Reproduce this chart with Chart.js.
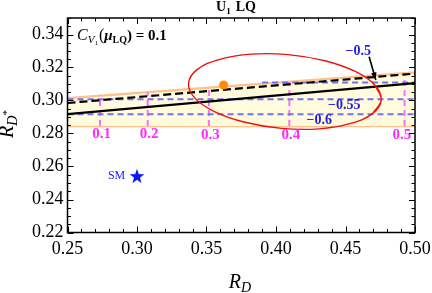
<!DOCTYPE html>
<html>
<head>
<meta charset="utf-8">
<script src="https://cdn.jsdelivr.net/npm/chart.js@4/dist/chart.umd.min.js"></script>
<style>
  html, body { margin: 0; padding: 0; background: #fff; }
  canvas { display: block; }
</style>
</head>
<body>
<canvas id="plot" width="432" height="293"></canvas>
<script>
// tick labels
const xTicks = [0.25, 0.30, 0.35, 0.40, 0.45, 0.50]
const yTicks = [0.22, 0.24, 0.26, 0.28, 0.30, 0.32, 0.34]

// allowed band (orange edges, yellow fill) and the two black lines
const bandX = [0.25, 0.50]
const bandUpper = [0.3014, 0.3170]
const bandLower = [0.2845, 0.2845]
const solidLine = [0.2918, 0.3105]
const dashedLine = [0.2985, 0.3163]

// blue contours
const contourLabels = ['\u22120.5', '\u22120.55', '\u22120.6']
const contourY = [0.3109, 0.3007, 0.2916]
const contourStart = [0.390, 0.25, 0.25]
const contourEnd = [0.50, 0.50, 0.50]
const contourLabelX = [0.4591, 0.4491, 0.4311]
const contourLabelY = [0.3296, 0.2973, 0.2878]

// magenta verticals
const magentaLabels = ['0.1', '0.2', '0.3', '0.4', '0.5']
const magentaX = [0.2734, 0.3077, 0.3517, 0.4096, 0.4925]
const magentaTop = [0.3030, 0.3050, 0.3077, 0.3112, 0.3163]
const magentaLabelX = [0.2745, 0.3088, 0.3528, 0.4107, 0.4905]
const magentaLabelY = [0.2796, 0.2796, 0.2790, 0.2790, 0.2793]

// red ellipse, read around the curve
const ellipseRD = [0.4712, 0.4757, 0.4696, 0.4537, 0.4308, 0.4041, 0.3777, 0.3557, 0.3415, 0.3371, 0.3432, 0.3590, 0.3820, 0.4087, 0.4351, 0.4570, 0.4712, 0.4757, 0.4696]
const ellipseRDs = [0.3093, 0.3004, 0.2922, 0.2861, 0.2828, 0.2831, 0.2868, 0.2933, 0.3016, 0.3105, 0.3187, 0.3248, 0.3281, 0.3278, 0.3241, 0.3176, 0.3093, 0.3004, 0.2922]

// points
const expPoint = {x: 0.3623, y: 0.3094}
const smPoint = {x: 0.30, y: 0.2542}

const serif = '"Liberation Serif", "DejaVu Serif", serif'

function pts(xs, ys) {
    return xs.map((x, i) => ({x: x, y: ys[i]}))
}

function starImage() {
    const c = document.createElement('canvas')
    c.width = 16
    c.height = 16
    const g = c.getContext('2d')
    g.fillStyle = '#0a14ff'
    g.beginPath()
    for (let i = 0; i < 10; i++) {
        let r = i % 2 === 0 ? 7.8 : 3.1
        let a = -Math.PI / 2 + i * Math.PI / 5
        let px = 8 + r * Math.cos(a)
        let py = 8.6 + r * Math.sin(a)
        if (i === 0) g.moveTo(px, py)
        else g.lineTo(px, py)
    }
    g.closePath()
    g.fill()
    return c
}

// draws a list of text pieces one after another
function drawParts(ctx, parts, x, y, align) {
    let total = 0
    parts.forEach(p => {
        ctx.font = p.font
        p.w = ctx.measureText(p.text).width
        total += p.w + (p.gap || 0)
    })
    let cx = align === 'center' ? x - total / 2 : x
    ctx.textBaseline = 'alphabetic'
    ctx.textAlign = 'left'
    parts.forEach(p => {
        ctx.font = p.font
        ctx.fillStyle = p.color || '#000'
        ctx.fillText(p.text, cx, y + (p.dy || 0))
        cx += p.w + (p.gap || 0)
    })
}

const decor = {
    id: 'decor',
    afterDraw(chart) {
        const ctx = chart.ctx
        const xs = chart.scales.x
        const ys = chart.scales.y
        const a = chart.chartArea
        ctx.save()

        // blue contour labels
        ctx.font = 'bold 14px ' + serif
        ctx.fillStyle = '#1e1ee0'
        ctx.textAlign = 'center'
        ctx.textBaseline = 'middle'
        for (let i = 0; i < contourLabels.length; i++) {
            ctx.fillText(contourLabels[i], xs.getPixelForValue(contourLabelX[i]), ys.getPixelForValue(contourLabelY[i]))
        }

        // arrow to the -0.5 contour
        let x0 = xs.getPixelForValue(0.4670), y0 = ys.getPixelForValue(0.3265)
        let x1 = xs.getPixelForValue(0.4718), y1 = ys.getPixelForValue(0.3124)
        ctx.strokeStyle = '#000'
        ctx.lineWidth = 1.6
        ctx.beginPath()
        ctx.moveTo(x0, y0)
        ctx.lineTo(x1, y1)
        ctx.stroke()
        let ang = Math.atan2(y1 - y0, x1 - x0)
        ctx.fillStyle = '#000'
        ctx.beginPath()
        ctx.moveTo(x1, y1)
        ctx.lineTo(x1 - 8 * Math.cos(ang - 0.35), y1 - 8 * Math.sin(ang - 0.35))
        ctx.lineTo(x1 - 8 * Math.cos(ang + 0.35), y1 - 8 * Math.sin(ang + 0.35))
        ctx.closePath()
        ctx.fill()

        // magenta labels
        ctx.font = 'bold 15px ' + serif
        ctx.fillStyle = '#ff2cff'
        ctx.textAlign = 'center'
        ctx.textBaseline = 'middle'
        for (let i = 0; i < magentaLabels.length; i++) {
            ctx.fillText(magentaLabels[i], xs.getPixelForValue(magentaLabelX[i]), ys.getPixelForValue(magentaLabelY[i]))
        }

        // SM label
        ctx.font = '12px ' + serif
        ctx.fillStyle = '#1a1aff'
        ctx.fillText('SM', xs.getPixelForValue(0.2853), ys.getPixelForValue(smPoint.y))

        // frame
        ctx.strokeStyle = '#000'
        ctx.lineWidth = 1.5
        ctx.strokeRect(a.left, a.top, a.right - a.left, a.bottom - a.top)

        // inward ticks on all sides
        ctx.lineWidth = 1
        ctx.beginPath()
        for (let k = 0; k <= 25; k++) {
            let v = 0.25 + k * 0.01
            let px = Math.round(xs.getPixelForValue(v)) + 0.5
            let len = k % 5 === 0 ? 6 : 3.5
            ctx.moveTo(px, a.bottom)
            ctx.lineTo(px, a.bottom - len)
            ctx.moveTo(px, a.top)
            ctx.lineTo(px, a.top + len)
        }
        for (let k = 0; k <= 26; k++) {
            let v = 0.22 + k * 0.005
            let py = Math.round(ys.getPixelForValue(v)) + 0.5
            let len = k % 4 === 0 ? 6 : 3.5
            ctx.moveTo(a.left, py)
            ctx.lineTo(a.left + len, py)
            ctx.moveTo(a.right, py)
            ctx.lineTo(a.right - len, py)
        }
        ctx.stroke()

        // title
        drawParts(ctx, [
            {text: 'U', font: 'bold 14px ' + serif},
            {text: '1', font: 'bold 9px ' + serif, dy: 3, gap: 5},
            {text: 'LQ', font: 'bold 14px ' + serif}
        ], 236, 11, 'center')

        // C_V1(mu_LQ) = 0.1
        drawParts(ctx, [
            {text: 'C', font: 'italic 16px ' + serif},
            {text: 'V', font: 'italic 11px ' + serif, dy: 3},
            {text: '1', font: '7px ' + serif, dy: 5, gap: 1},
            {text: '(', font: '16px ' + serif},
            {text: '\u03bc', font: 'italic bold 15px ' + serif},
            {text: 'LQ', font: 'bold 10px ' + serif, dy: 3},
            {text: ') = 0.1', font: 'bold 15px ' + serif}
        ], 77, 40, 'left')

        // x axis title
        drawParts(ctx, [
            {text: 'R', font: 'italic 20px ' + serif},
            {text: 'D', font: 'italic 14px ' + serif, dy: 4}
        ], 240, 288, 'center')

        // y axis title
        ctx.translate(13, 124)
        ctx.rotate(-Math.PI / 2)
        drawParts(ctx, [
            {text: 'R', font: 'italic 20px ' + serif},
            {text: 'D', font: 'italic 14px ' + serif, dy: 4},
            {text: '*', font: '11px ' + serif, dy: -3}
        ], 0, 0, 'center')

        ctx.restore()
    }
}

const blueDash = '#7373f2'
const magenta = '#ff6dff'

let datasets = []

datasets.push({
    data: [expPoint],
    pointRadius: 4.5,
    pointBackgroundColor: '#ff8a00',
    pointBorderWidth: 0,
    showLine: false
})
datasets.push({
    data: [smPoint],
    pointStyle: starImage(),
    pointRadius: 8,
    showLine: false
})
datasets.push({
    data: pts(ellipseRD, ellipseRDs),
    showLine: true,
    borderColor: '#f01010',
    borderWidth: 1.4,
    tension: 0.4,
    pointRadius: 0
})
datasets.push({
    data: pts(bandX, dashedLine),
    showLine: true,
    borderColor: '#000',
    borderWidth: 2.2,
    borderDash: [8, 4],
    pointRadius: 0
})
datasets.push({
    data: pts(bandX, solidLine),
    showLine: true,
    borderColor: '#000',
    borderWidth: 2.2,
    pointRadius: 0
})
for (let i = 0; i < contourY.length; i++) {
    datasets.push({
        data: [{x: contourStart[i], y: contourY[i]}, {x: contourEnd[i], y: contourY[i]}],
        showLine: true,
        borderColor: blueDash,
        borderWidth: 2,
        borderDash: [6, 4],
        pointRadius: 0
    })
}
for (let i = 0; i < magentaX.length; i++) {
    datasets.push({
        data: [{x: magentaX[i], y: bandLower[0]}, {x: magentaX[i], y: magentaTop[i]}],
        showLine: true,
        borderColor: magenta,
        borderWidth: 2,
        borderDash: [6, 4],
        pointRadius: 0
    })
}
datasets.push({
    data: pts(bandX, bandUpper),
    showLine: true,
    borderColor: '#ffc08a',
    borderWidth: 2.2,
    backgroundColor: '#fffbdc',
    fill: '+1',
    pointRadius: 0
})
datasets.push({
    data: pts(bandX, bandLower),
    showLine: true,
    borderColor: '#ffc08a',
    borderWidth: 2.2,
    pointRadius: 0
})

const tickFont = {family: serif, size: 18}

new Chart(document.getElementById('plot').getContext('2d'), {
    type: 'scatter',
    data: {datasets},
    options: {
        responsive: false,
        animation: false,
        devicePixelRatio: 1,
        layout: {padding: {top: 18, right: 17, left: 0, bottom: 0}},
        plugins: {
            legend: {display: false},
            tooltip: {enabled: false}
        },
        scales: {
            x: {
                type: 'linear',
                min: 0.25,
                max: 0.50,
                afterBuildTicks: s => { s.ticks = xTicks.map(v => ({value: v})) },
                afterFit: s => {
                    s.height = 60.5
                    s.paddingLeft = 0
                    s.paddingRight = 0
                },
                grid: {display: false, drawTicks: false},
                border: {display: false},
                ticks: {
                    padding: 6,
                    color: '#000',
                    font: tickFont,
                    maxRotation: 0,
                    autoSkip: false,
                    callback: v => v.toFixed(2)
                }
            },
            y: {
                type: 'linear',
                min: 0.22,
                max: 0.35,
                afterBuildTicks: s => { s.ticks = yTicks.map(v => ({value: v})) },
                afterFit: s => {
                    s.width = 67.5
                    s.paddingTop = 0
                    s.paddingBottom = 0
                },
                grid: {display: false, drawTicks: false},
                border: {display: false},
                ticks: {
                    padding: 4,
                    color: '#000',
                    font: tickFont,
                    autoSkip: false,
                    callback: v => v.toFixed(2)
                }
            }
        }
    },
    plugins: [decor]
})
</script>
</body>
</html>
